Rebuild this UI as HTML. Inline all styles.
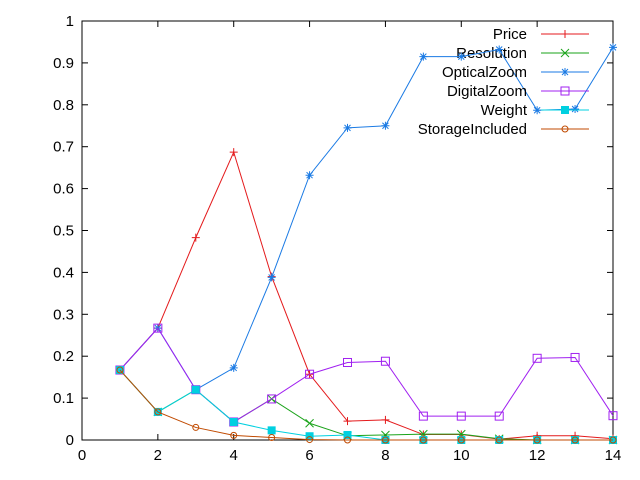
<!DOCTYPE html>
<html><head><meta charset="utf-8"><style>
body{margin:0;background:#fff;}
svg{display:block;font-family:"Liberation Sans",sans-serif;font-size:15px;}
</style></head><body>
<svg id="chart" width="640" height="480"></svg>
<script>
const xTicks=[0,2,4,6,8,10,12,14];
const yTicks=[0,0.1,0.2,0.3,0.4,0.5,0.6,0.7,0.8,0.9,1];
const yTickLabels=["0","0.1","0.2","0.3","0.4","0.5","0.6","0.7","0.8","0.9","1"];
const xs=[1,2,3,4,5,6,7,8,9,10,11,12,13,14];
const seriesNames=["Price","Resolution","OpticalZoom","DigitalZoom","Weight","StorageIncluded"];
const price=[0.167,0.267,0.483,0.687,0.39,0.157,0.045,0.048,0.013,0.013,0.002,0.01,0.01,0.003];
const resolution=[0.167,0.067,0.12,0.043,0.098,0.04,0.01,0.012,0.014,0.014,0.003,0,0,0];
const opticalZoom=[0.167,0.267,0.12,0.172,0.388,0.632,0.745,0.75,0.915,0.915,0.932,0.787,0.79,0.937];
const digitalZoom=[0.167,0.267,0.12,0.043,0.098,0.157,0.185,0.188,0.057,0.057,0.057,0.195,0.197,0.058];
const weight=[0.167,0.067,0.12,0.043,0.023,0.009,0.012,0,0,0,0,0,0,0];
const storageIncluded=[0.167,0.067,0.03,0.011,0.006,0.001,0,0,0,0,0,0,0,0];

const svg=document.getElementById('chart');
const NS='http://www.w3.org/2000/svg';
const L=82,R=613,T=21,B=440;
const X=v=>L+(v-0)/14*(R-L);
const Y=v=>B-v*(B-T);
function mk(t,a,p){const e=document.createElementNS(NS,t);for(const k in a)e.setAttribute(k,a[k]);(p||svg).appendChild(e);return e;}
const frame=mk('rect',{x:L,y:T,width:R-L,height:B-T,fill:'none',stroke:'#000','stroke-width':1});


yTicks.forEach((v,i)=>{
  const y=Y(v);
  mk('line',{x1:L,y1:y,x2:L+6,y2:y,stroke:'#000'});
  mk('line',{x1:R,y1:y,x2:R-6,y2:y,stroke:'#000'});
  const t=mk('text',{x:L-8,y:y+5,'text-anchor':'end'});t.textContent=yTickLabels[i];
  
  
});
xTicks.forEach(v=>{
  const x=X(v);
  mk('line',{x1:x,y1:B,x2:x,y2:B-6,stroke:'#000'});
  mk('line',{x1:x,y1:T,x2:x,y2:T+6,stroke:'#000'});
  const t=mk('text',{x:x,y:B+20,'text-anchor':'middle'});t.textContent=String(v);
  
  
});
const colors=['#e41a1c','#1aa31a','#1a7ae4','#a020f0','#00d0e0','#c04a00'];
const data=[price,resolution,opticalZoom,digitalZoom,weight,storageIncluded];
function marker(k,x,y,c,g){
  if(k===0){mk('path',{d:`M${x-4},${y}h8M${x},${y-4}v8`,stroke:c,fill:'none'},g);}
  else if(k===1){mk('path',{d:`M${x-4},${y-4}l8,8M${x-4},${y+4}l8,-8`,stroke:c,fill:'none'},g);}
  else if(k===2){mk('path',{d:`M${x-4},${y}h8M${x},${y-4}v8M${x-3},${y-3}l6,6M${x-3},${y+3}l6,-6`,stroke:c,fill:'none'},g);}
  else if(k===3){mk('rect',{x:x-4,y:y-4,width:8,height:8,stroke:c,fill:'none'},g);}
  else if(k===4){mk('rect',{x:x-4,y:y-4,width:8,height:8,fill:c},g);}
  else {mk('circle',{cx:x,cy:y,r:3,stroke:c,fill:'none'},g);}
}
data.forEach((arr,k)=>{
  const g=mk('g',{});
  
  
  mk('polyline',{points:arr.map((v,i)=>X(xs[i])+','+Y(v)).join(' '),fill:'none',stroke:colors[k],'stroke-width':1},g);
  arr.forEach((v,i)=>marker(k,X(xs[i]),Y(v),colors[k],g));
  const ly=34+k*19;
  const lg=mk('g',{});
  
  
  const t=mk('text',{x:527,y:ly+5,'text-anchor':'end'},lg);t.textContent=seriesNames[k];
  mk('line',{x1:541,y1:ly,x2:589,y2:ly,stroke:colors[k]},lg);
  marker(k,565,ly,colors[k],lg);
});
</script>
</body></html>
